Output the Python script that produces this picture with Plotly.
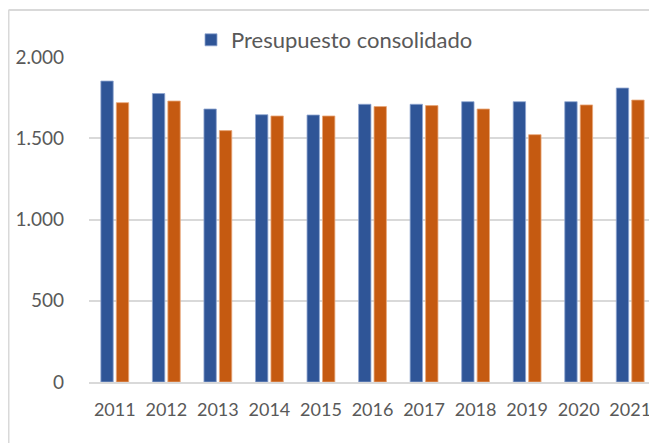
import plotly.graph_objects as go

years = ["2011", "2012", "2013", "2014", "2015", "2016", "2017", "2018", "2019", "2020", "2021"]
consolidado = [1852, 1775, 1680, 1645, 1643, 1709, 1709, 1725, 1725, 1725, 1809]
otro = [1719, 1729, 1547, 1637, 1637, 1695, 1701, 1680, 1522, 1705, 1735]
y_ticks = [0, 500, 1000, 1500, 2000]
y_tick_labels = ["0", "500", "1.000", "1.500", "2.000"]

BLUE = "#2F5597"
ORANGE = "#C55A11"
GRAY_TXT = "#595959"
GRID = "#D9D9D9"
FONT = "Lato"

fig = go.Figure()
fig.add_trace(go.Bar(
    x=years, y=consolidado, name="Presupuesto consolidado",
    marker=dict(color=BLUE, line=dict(color="#8FA6D0", width=0.8)),
))
fig.add_trace(go.Bar(
    x=years, y=otro, name="", showlegend=False,
    marker=dict(color=ORANGE, line=dict(color="#E8A77A", width=0.8)),
))

# page has 8px body margin; figure sized/positioned accordingly
W, H = 649, 435
L, R, T, B = 81, 1, 49, 61
pw = W - L - R
ph = H - T - B

fig.update_layout(
    width=W, height=H,
    margin=dict(l=L, r=R, t=T, b=B),
    paper_bgcolor="white", plot_bgcolor="white",
    barmode="group", bargap=0.40, bargroupgap=0.2,
    font=dict(family=FONT, size=18, color=GRAY_TXT),
    showlegend=True,
    legend=dict(
        orientation="h", x=(183 - L) / pw, xanchor="left",
        y=1 + (T - 32) / ph, yanchor="middle",
        font=dict(family=FONT, size=22, color=GRAY_TXT),
        bgcolor="rgba(0,0,0,0)", itemwidth=30,
    ),
    xaxis=dict(
        showgrid=False, showline=True, linecolor=GRID, linewidth=2,
        ticks="", ticklabelstandoff=10,
        tickfont=dict(family=FONT, size=18, color=GRAY_TXT),
    ),
    yaxis=dict(
        range=[0, 2000], tickvals=y_ticks, ticktext=y_tick_labels,
        showgrid=True, gridcolor=GRID, gridwidth=1.6,
        zeroline=False, showline=False, ticks="",
        ticklabelstandoff=24,
        tickfont=dict(family=FONT, size=19, color=GRAY_TXT),
    ),
    shapes=[
        dict(type="line", xref="paper", yref="paper",
             x0=(0.5 - L) / pw, x1=(0.5 - L) / pw, y0=-0.5, y1=1 + (T - 2) / ph,
             line=dict(color=GRID, width=2)),
        dict(type="line", xref="paper", yref="paper",
             x0=(0.5 - L) / pw, x1=1.2, y0=1 + (T - 2) / ph, y1=1 + (T - 2) / ph,
             line=dict(color=GRID, width=2)),
    ],
)

fig.write_html("out.html")
